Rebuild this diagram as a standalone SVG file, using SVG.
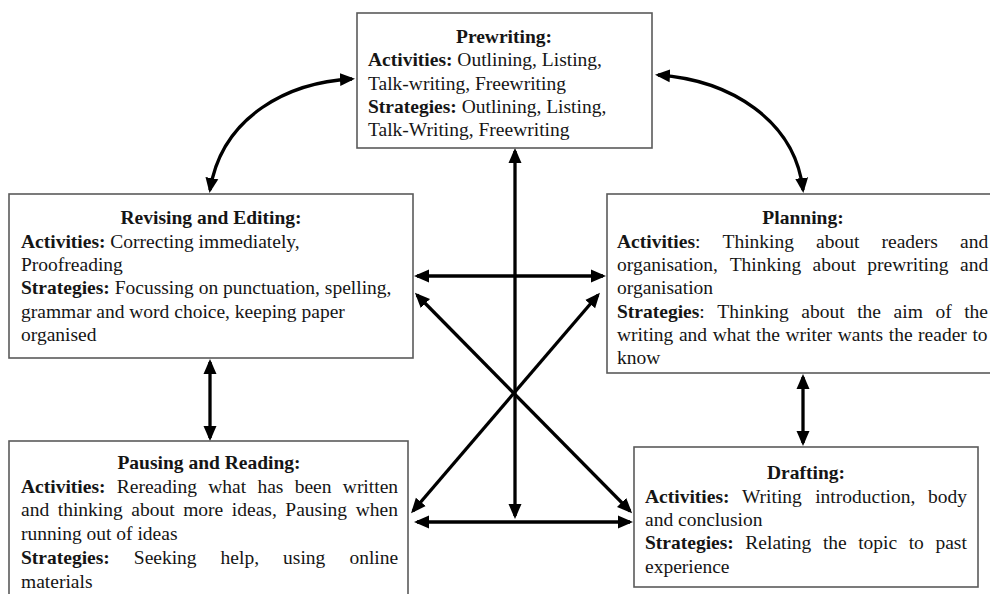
<svg xmlns="http://www.w3.org/2000/svg" width="990" height="594" viewBox="0 0 990 594">
  <defs>
    <marker id="head" markerUnits="userSpaceOnUse" markerWidth="16" markerHeight="14" refX="12" refY="7" orient="auto-start-reverse" viewBox="0 0 16 14">
      <path d="M0,0.5 L15,7 L0,13.5 z" fill="#000"/>
    </marker>
  </defs>
  <style>
    .box { fill: #fff; stroke: #5a5a5a; stroke-width: 1.6; }
    .t { font-family: "Liberation Serif", "Times New Roman", serif; font-size: 19.5px; fill: #151515; }
    .b { font-weight: bold; }
    .c { text-anchor: middle; }
    .arr { fill: none; stroke: #000; stroke-width: 3.3; marker-start: url(#head); marker-end: url(#head); }
  </style>
  <rect width="990" height="594" fill="#fff"/>

  <!-- connectors: two curved links from Prewriting, a central spine, cross links and side links -->
  <g id="connectors">
    <path class="arr" d="M352,79 C290,82 222,115 210,190"/>
    <path class="arr" d="M658,75 C730,80 795,120 803,190"/>
    <path class="arr" d="M515,151 L515,516"/>
    <path class="arr" d="M417,276 L603,276"/>
    <path class="arr" d="M417,522 L630,522"/>
    <path class="arr" d="M417,295 L630,511"/>
    <path class="arr" d="M598,295 L413,511"/>
    <path class="arr" d="M210,362 L210,438"/>
    <path class="arr" d="M803,377 L803,443"/>
  </g>

  <!-- Prewriting -->
  <g id="prewriting">
    <rect class="box" x="357" y="13" width="295" height="135"/>
    <text class="t b c" x="504" y="43">Prewriting:</text>
    <text class="t" x="368" y="66"><tspan class="b">Activities:</tspan> Outlining, Listing,</text>
    <text class="t" x="368" y="89.5">Talk-writing, Freewriting</text>
    <text class="t" x="368" y="113"><tspan class="b">Strategies:</tspan> Outlining, Listing,</text>
    <text class="t" x="368" y="136">Talk-Writing, Freewriting</text>
  </g>

  <!-- Revising and Editing -->
  <g id="revising">
    <rect class="box" x="9" y="194" width="404" height="164"/>
    <text class="t b c" x="211" y="224">Revising and Editing:</text>
    <text class="t" x="21" y="248"><tspan class="b">Activities:</tspan> Correcting immediately,</text>
    <text class="t" x="21" y="271">Proofreading</text>
    <text class="t" x="21" y="294"><tspan class="b">Strategies:</tspan> Focussing on punctuation, spelling,</text>
    <text class="t" x="21" y="318">grammar and word choice, keeping paper</text>
    <text class="t" x="21" y="341">organised</text>
  </g>

  <!-- Planning (justified lines set word by word) -->
  <g id="planning">
    <rect class="box" x="607" y="194" width="400" height="179"/>
    <text class="t b c" x="803" y="224">Planning:</text>
    <text class="t" y="248"><tspan class="b" x="617">Activities</tspan>:<tspan x="722.5">Thinking</tspan><tspan x="816">about</tspan><tspan x="881.5">readers</tspan><tspan x="960">and</tspan></text>
    <text class="t" y="271"><tspan x="617">organisation,</tspan><tspan x="729.7">Thinking</tspan><tspan x="812.6">about</tspan><tspan x="867.3">prewriting</tspan><tspan x="960">and</tspan></text>
    <text class="t" x="617" y="294">organisation</text>
    <text class="t" y="318"><tspan class="b" x="617">Strategies</tspan>:<tspan x="717.3">Thinking</tspan><tspan x="801.3">about</tspan><tspan x="857.2">the</tspan><tspan x="893.6">aim</tspan><tspan x="935.4">of</tspan><tspan x="964.2">the</tspan></text>
    <text class="t" x="617" y="341" word-spacing="0.7">writing and what the writer wants the reader to</text>
    <text class="t" x="617" y="364">know</text>
  </g>

  <!-- Pausing and Reading -->
  <g id="pausing">
    <rect class="box" x="9" y="441" width="399" height="170"/>
    <text class="t b c" x="209" y="469">Pausing and Reading:</text>
    <text class="t" y="493"><tspan class="b" x="21">Activities:</tspan><tspan x="116.8">Rereading</tspan><tspan x="208.2">what</tspan><tspan x="257.4">has</tspan><tspan x="294.7">been</tspan><tspan x="342.8">written</tspan></text>
    <text class="t" x="21" y="516" word-spacing="3.7">and thinking about more ideas, Pausing when</text>
    <text class="t" x="21" y="540">running out of ideas</text>
    <text class="t" y="564"><tspan class="b" x="21">Strategies:</tspan><tspan x="133.8">Seeking</tspan><tspan x="220.6">help,</tspan><tspan x="283.1">using</tspan><tspan x="349.4">online</tspan></text>
    <text class="t" x="21" y="588">materials</text>
  </g>

  <!-- Drafting -->
  <g id="drafting">
    <rect class="box" x="634" y="447" width="344" height="140"/>
    <text class="t b c" x="806" y="479">Drafting:</text>
    <text class="t" y="503"><tspan class="b" x="645">Activities:</tspan><tspan x="742">Writing</tspan><tspan x="815.2">introduction,</tspan><tspan x="927.9">body</tspan></text>
    <text class="t" x="645" y="526">and conclusion</text>
    <text class="t" y="549"><tspan class="b" x="645">Strategies:</tspan><tspan x="745.3">Relating</tspan><tspan x="822.9">the</tspan><tspan x="858.2">topic</tspan><tspan x="908.7">to</tspan><tspan x="935.4">past</tspan></text>
    <text class="t" x="645" y="573">experience</text>
  </g>
</svg>
